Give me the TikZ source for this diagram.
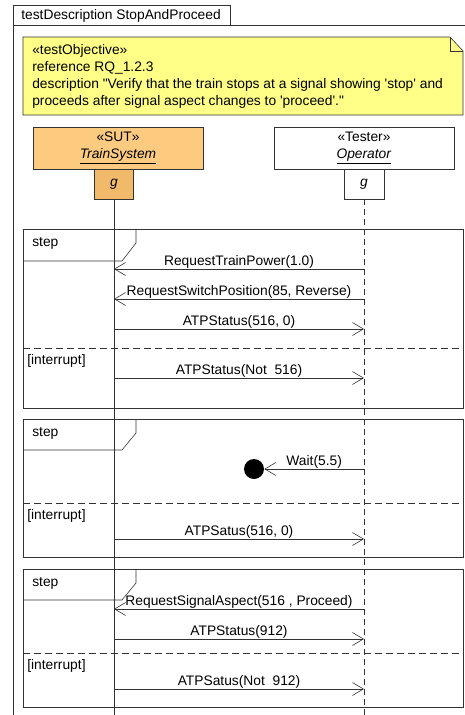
\documentclass[tikz,border=0pt]{standalone}
\usepackage{fontspec}
\setmainfont{Liberation Sans}
\usetikzlibrary{arrows.meta,positioning,calc}
\definecolor{notefill}{HTML}{FFFF88}
\definecolor{sutfill}{HTML}{FCCB80}
\definecolor{sutgfill}{HTML}{F0BA6A}
\definecolor{ink}{HTML}{333333}

\begin{document}
\begin{tikzpicture}[x=1pt,y=-1pt,font=\fontsize{13.8}{17}\selectfont,line width=0.6pt,draw=ink,
  head/.style={draw=ink, inner sep=0pt, minimum height=42pt, align=center},
  gbox/.style={draw=ink, inner sep=0pt, minimum width=40pt, minimum height=30pt},
  msg/.style={draw=ink, -{Straight Barb[length=11pt,width=13pt]}},
  lbl/.style={anchor=south, inner sep=0.5pt},
  life/.style={draw=ink, dash pattern=on 6pt off 4pt},
  sep/.style={draw=ink, dash pattern=on 7pt off 4pt}]
  \useasboundingbox (0,0) rectangle (465,715);

  % outer frame
  \draw (13,715) -- (13,5) -- (230,5) -- (230,25);
  \draw (13,25) -- (465,25);
  \node[anchor=west, inner sep=0pt] (title) at (21,15.5) {testDescription StopAndProceed};

  % objective note
  \draw[fill=notefill] (23,37) -- (450,37) -- (463,51) -- (463,115) -- (23,115) -- cycle;
  \draw (450,37) -- (450,51) -- (463,51);
  \node[anchor=north west, inner sep=0pt, align=left] (objective) at (32,44)
    {«testObjective»\\reference RQ\_1.2.3\\description \textquotedbl Verify that the train stops at a signal showing \textquotesingle stop\textquotesingle{} and\\proceeds after signal aspect changes to \textquotesingle proceed\textquotesingle.\textquotedbl};

  % lifeline heads
  \node[head, fill=sutfill, minimum width=170pt] (sut) at (118,148) {«SUT»\\\underline{\textit{TrainSystem}}};
  \node[head, fill=white, minimum width=180pt] (tester) at (364,148) {«Tester»\\\underline{\textit{Operator}}};
  \node[gbox, fill=sutgfill, minimum width=39pt] (sutg) at (114,184) {\textit{g}};
  \node[gbox, fill=white] (tstg) at (364,184) {\textit{g}};

  % step frames
  \draw (23,229) rectangle (463,408);
  \draw (23,261) -- (122,261) -- (136,243) -- (136,229);
  \draw[sep] (23,348) -- (463,348);
  \node[anchor=west, inner sep=0pt] (step1) at (32,243) {step};
  \node[anchor=west, inner sep=0pt] (int1) at (27,361) {[interrupt]};

  \draw (23,419) rectangle (463,557);
  \draw (23,450) -- (122,450) -- (136,433) -- (136,419);
  \draw[sep] (23,503) -- (463,503);
  \node[anchor=west, inner sep=0pt] (step2) at (32,433) {step};
  \node[anchor=west, inner sep=0pt] (int2) at (27,516) {[interrupt]};

  \draw (23,569) rectangle (463,707);
  \draw (23,600) -- (122,600) -- (136,583) -- (136,569);
  \draw[sep] (23,653) -- (463,653);
  \node[anchor=west, inner sep=0pt] (step3) at (32,583) {step};
  \node[anchor=west, inner sep=0pt] (int3) at (27,666) {[interrupt]};

  % lifelines
  \coordinate (bottom) at (0,715);
  \draw (sutg.south) -- (sutg.south |- bottom);
  \draw[life] (tstg.south) -- (tstg.south |- bottom);

  % messages, step 1
  \coordinate (s1) at (sutg.south |- 0,269); \coordinate (t1) at (tstg.south |- 0,269);
  \coordinate (s2) at (sutg.south |- 0,299); \coordinate (t2) at (tstg.south |- 0,299);
  \coordinate (s3) at (sutg.south |- 0,329); \coordinate (t3) at (tstg.south |- 0,329);
  \coordinate (s4) at (sutg.south |- 0,378); \coordinate (t4) at (tstg.south |- 0,378);
  \draw[msg] (t1) -- node[lbl] {RequestTrainPower(1.0)} (s1);
  \draw[msg] (t2) -- node[lbl] {RequestSwitchPosition(85, Reverse)} (s2);
  \draw[msg] (s3) -- node[lbl] {ATPStatus(516, 0)} (t3);
  \draw[msg] (s4) -- node[lbl] {ATPStatus(Not\ \ 516)} (t4);

  % messages, step 2
  \node[circle, fill=black, inner sep=0pt, minimum size=20pt] (halt) at (254,469) {};
  \coordinate (t5) at (tstg.south |- halt);
  \coordinate (s6) at (sutg.south |- 0,539); \coordinate (t6) at (tstg.south |- 0,539);
  \draw[msg] (t5) -- node[lbl] {Wait(5.5)} (halt);
  \draw[msg] (s6) -- node[lbl] {ATPSatus(516, 0)} (t6);

  % messages, step 3
  \coordinate (s7) at (sutg.south |- 0,609); \coordinate (t7) at (tstg.south |- 0,609);
  \coordinate (s8) at (sutg.south |- 0,639); \coordinate (t8) at (tstg.south |- 0,639);
  \coordinate (s9) at (sutg.south |- 0,689); \coordinate (t9) at (tstg.south |- 0,689);
  \draw[msg] (t7) -- node[lbl] {RequestSignalAspect(516 , Proceed)} (s7);
  \draw[msg] (s8) -- node[lbl] {ATPStatus(912)} (t8);
  \draw[msg] (s9) -- node[lbl] {ATPSatus(Not\ \ 912)} (t9);
\end{tikzpicture}
\end{document}
